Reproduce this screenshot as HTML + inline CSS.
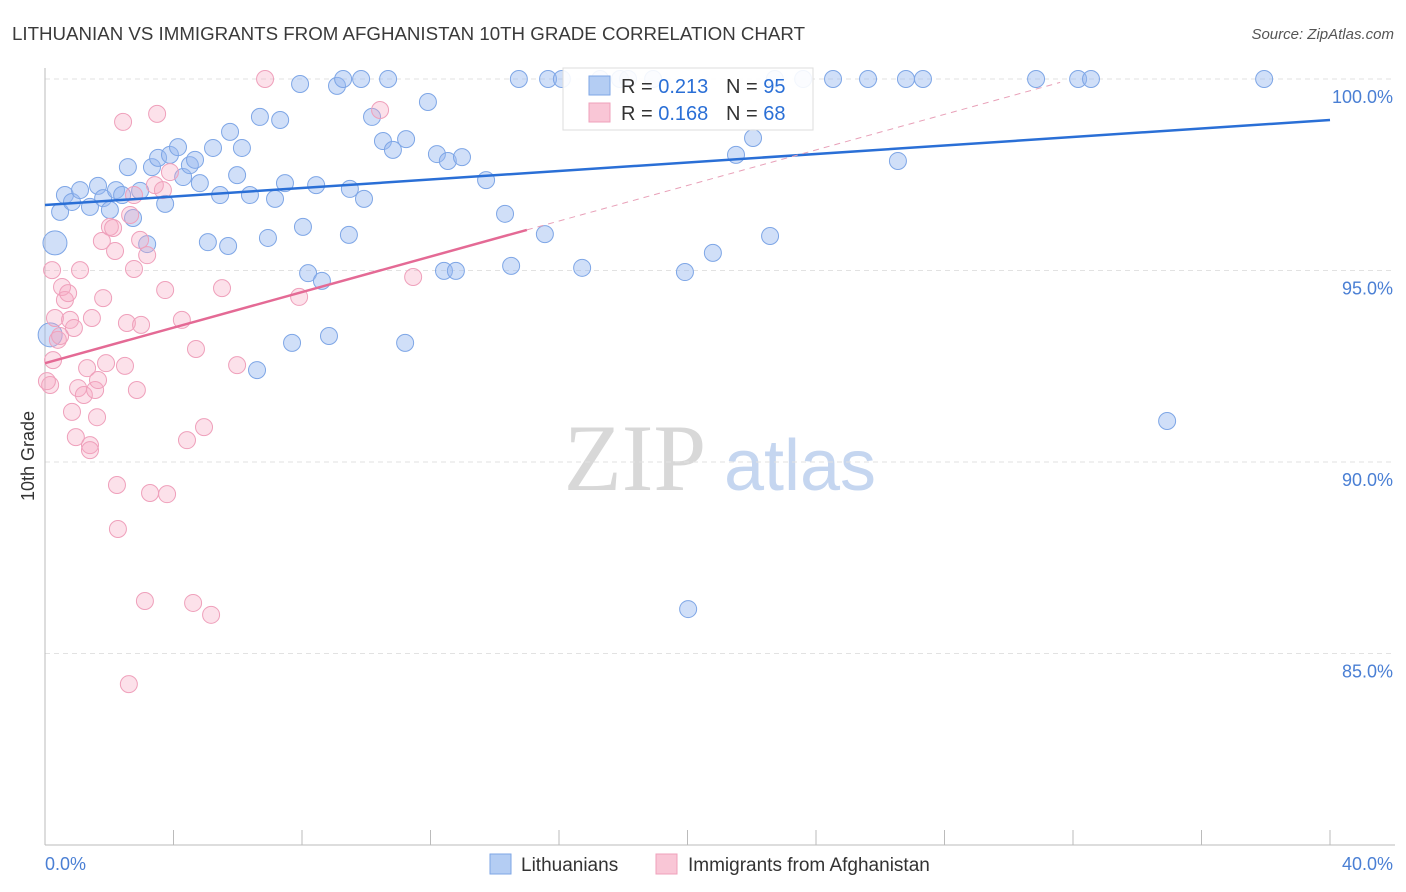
<!DOCTYPE html>
<html><head><meta charset="utf-8"><style>
body{margin:0;background:#fff;font-family:"Liberation Sans",sans-serif;}
#wrap{position:relative;width:1406px;height:892px;overflow:hidden}
</style></head><body>
<div id="wrap">
<svg id="svg" width="1406" height="892"></svg>
</div>
<script>
const blueX=[0.31,0.47,0.62,0.84,1.09,1.40,1.65,1.81,2.02,2.21,2.40,2.58,2.74,2.96,3.18,3.33,3.52,3.74,3.89,4.14,4.30,4.51,4.67,4.82,5.07,5.23,5.45,5.70,5.76,5.98,6.13,6.38,6.69,6.94,7.16,7.32,7.47,7.94,8.03,8.19,8.44,8.62,8.84,9.09,9.28,9.46,9.49,9.84,9.93,10.18,10.52,10.68,10.83,11.24,11.21,11.92,12.20,12.42,12.54,12.79,12.98,13.73,14.32,14.51,14.75,15.56,15.66,16.09,16.72,17.28,17.90,18.15,18.93,19.92,20.02,20.79,21.51,22.04,22.57,22.72,23.60,24.53,25.62,26.55,26.80,27.33,30.85,32.16,32.56,34.93,37.95,6.60,7.69,0.16];
const blueY=[95.72,96.53,96.97,96.79,97.10,96.66,97.21,96.89,96.58,97.10,96.97,97.70,96.37,97.08,95.69,97.70,97.94,96.74,98.02,98.22,97.44,97.75,97.89,97.28,95.74,98.20,96.97,95.64,98.62,97.49,98.20,96.97,99.01,95.85,96.87,98.93,97.28,99.87,96.14,94.93,97.23,94.73,93.29,99.82,100,95.93,97.13,100,96.87,99.01,98.38,100,98.15,98.43,93.11,99.40,98.04,94.99,97.86,94.99,97.96,97.36,96.48,95.12,100,95.95,100,100,95.07,100,100,100,100,94.96,86.16,95.46,98.02,98.46,95.90,100,100,100,100,97.86,100,100,100,100,100,91.07,100,92.40,93.11,93.32];
const pinkX=[0.22,0.16,0.25,0.31,0.40,0.53,0.62,0.72,0.78,0.84,0.90,0.96,1.03,1.09,1.21,1.31,1.40,1.46,1.56,1.62,1.65,1.77,1.81,1.90,2.02,2.12,2.18,2.24,2.27,2.43,2.49,2.55,2.61,2.65,2.77,2.86,2.96,2.99,3.11,3.18,3.27,3.42,3.49,3.67,3.74,3.80,3.89,4.26,4.42,4.61,4.70,4.95,5.17,5.51,5.98,6.85,7.91,10.43,11.46,2.77,0.47,0.06,1.40];
const pinkY=[95.01,92.01,92.66,93.76,93.19,94.57,94.23,94.41,93.71,91.31,93.50,90.65,91.93,95.01,91.75,92.45,90.44,93.76,91.88,91.17,92.14,95.77,94.28,92.58,96.14,96.11,95.51,89.40,88.25,98.88,92.51,93.63,84.20,96.45,96.97,91.88,95.80,93.58,86.37,95.40,89.19,97.23,99.09,97.10,94.49,89.16,97.57,93.71,90.57,86.32,92.95,90.91,86.01,94.54,92.53,100,94.31,99.19,94.83,95.04,93.29,92.11,90.31];
const blueTrend=[96.71,98.93];
const pinkTrend=[92.58,0.232];
const yTicks=[100,95,90,85];
const yTickLabels=["100.0%","95.0%","90.0%","85.0%"];
const xTicks=[0,4,8,12,16,20,24,28,32,36,40];

const NS="http://www.w3.org/2000/svg",svg=document.getElementById('svg');
const X=v=>45+v*32.125, Y=v=>79+(100-v)*38.3;
function mk(t,a,p){const e=document.createElementNS(NS,t);for(const k in a)e.setAttribute(k,a[k]);(p||svg).appendChild(e);return e;}
let t=mk('text',{x:12,y:40,'font-size':18,fill:'#3a3a3a',textLength:793,lengthAdjust:'spacingAndGlyphs'});t.textContent="LITHUANIAN VS IMMIGRANTS FROM AFGHANISTAN 10TH GRADE CORRELATION CHART";

t=mk('text',{x:1394,y:39,'font-size':15,fill:'#555','text-anchor':'end','font-style':'italic'});t.textContent="Source: ZipAtlas.com";

t=mk('text',{x:635,y:490,'font-size':95,fill:'#d8d8d8','text-anchor':'middle','font-family':'Liberation Serif'});t.textContent="ZIP";

t=mk('text',{x:800,y:490,'font-size':72,fill:'#c5d6f0','text-anchor':'middle'});t.textContent="atlas";

yTicks.forEach((v,i)=>{const l=mk('line',{x1:45,x2:1395,y1:Y(v),y2:Y(v),stroke:'#e2e2e2','stroke-dasharray':'5,4'});

const tx=mk('text',{x:1393,y:Y(v)+24,'font-size':18,fill:'#4a7fd4','text-anchor':'end'});tx.textContent=yTickLabels[i];
});
let ax=mk('line',{x1:45,x2:45,y1:68,y2:845,stroke:'#bbb'});
ax=mk('line',{x1:45,x2:1395,y1:845,y2:845,stroke:'#bbb'});
xTicks.forEach(v=>{const l=mk('line',{x1:X(v),x2:X(v),y1:830,y2:845,stroke:'#bbb'});});
t=mk('text',{x:45,y:870,'font-size':18,fill:'#4a7fd4'});t.textContent="0.0%";
t=mk('text',{x:1393,y:870,'font-size':18,fill:'#4a7fd4','text-anchor':'end'});t.textContent="40.0%";
t=mk('text',{x:34,y:456,'font-size':18,fill:'#333','text-anchor':'middle',transform:'rotate(-90 34 456)'});t.textContent="10th Grade";

blueX.forEach((v,i)=>{const big=(i==0||i==blueX.length-1);const c=mk('circle',{cx:X(v),cy:Y(blueY[i]),r:big?12:8.5,fill:'rgba(150,185,240,0.45)',stroke:'#7ea6e6','stroke-width':1});
});
pinkX.forEach((v,i)=>{const c=mk('circle',{cx:X(v),cy:Y(pinkY[i]),r:8.5,fill:'rgba(245,170,195,0.35)',stroke:'#efa0bb','stroke-width':1});
});
let l=mk('line',{x1:X(0),y1:Y(blueTrend[0]),x2:X(40),y2:Y(blueTrend[1]),stroke:'#2a6fd6','stroke-width':2.5});

l=mk('line',{x1:X(15),y1:Y(pinkTrend[0]+15*pinkTrend[1]),x2:X(31.6),y2:Y(pinkTrend[0]+31.6*pinkTrend[1]),stroke:'#e8a0b8','stroke-width':1,'stroke-dasharray':'6,5'});

l=mk('line',{x1:X(0),y1:Y(pinkTrend[0]),x2:X(15),y2:Y(pinkTrend[0]+15*pinkTrend[1]),stroke:'#e46a95','stroke-width':2.5});

const lg=mk('g',{});
mk('rect',{x:563,y:68,width:250,height:62,fill:'rgba(255,255,255,0.9)',stroke:'#ddd'},lg);
mk('rect',{x:589,y:76,width:21,height:19,fill:'#b4cdf3',stroke:'#7ea6e6'},lg);
mk('rect',{x:589,y:103,width:21,height:19,fill:'#f9c6d6',stroke:'#efa0bb'},lg);
[[0,"0.213","95"],[1,"0.168","68"]].forEach(([i,r,n])=>{const y=93+i*27;
let a=mk('text',{x:621,y:y,'font-size':20,fill:'#333'},lg);a.innerHTML='R = <tspan fill="#2a6fd6">'+r+'</tspan>';
a=mk('text',{x:726,y:y,'font-size':20,fill:'#333'},lg);a.innerHTML='N = <tspan fill="#2a6fd6">'+n+'</tspan>';});
const bl=mk('g',{});
mk('rect',{x:490,y:854,width:21,height:20,fill:'#b4cdf3',stroke:'#7ea6e6'},bl);
t=mk('text',{x:521,y:871,'font-size':19,fill:'#333'},bl);t.textContent="Lithuanians";
mk('rect',{x:656,y:854,width:21,height:20,fill:'#f9c6d6',stroke:'#efa0bb'},bl);
t=mk('text',{x:688,y:871,'font-size':19,fill:'#333'},bl);t.textContent="Immigrants from Afghanistan";
</script>
</body></html>
